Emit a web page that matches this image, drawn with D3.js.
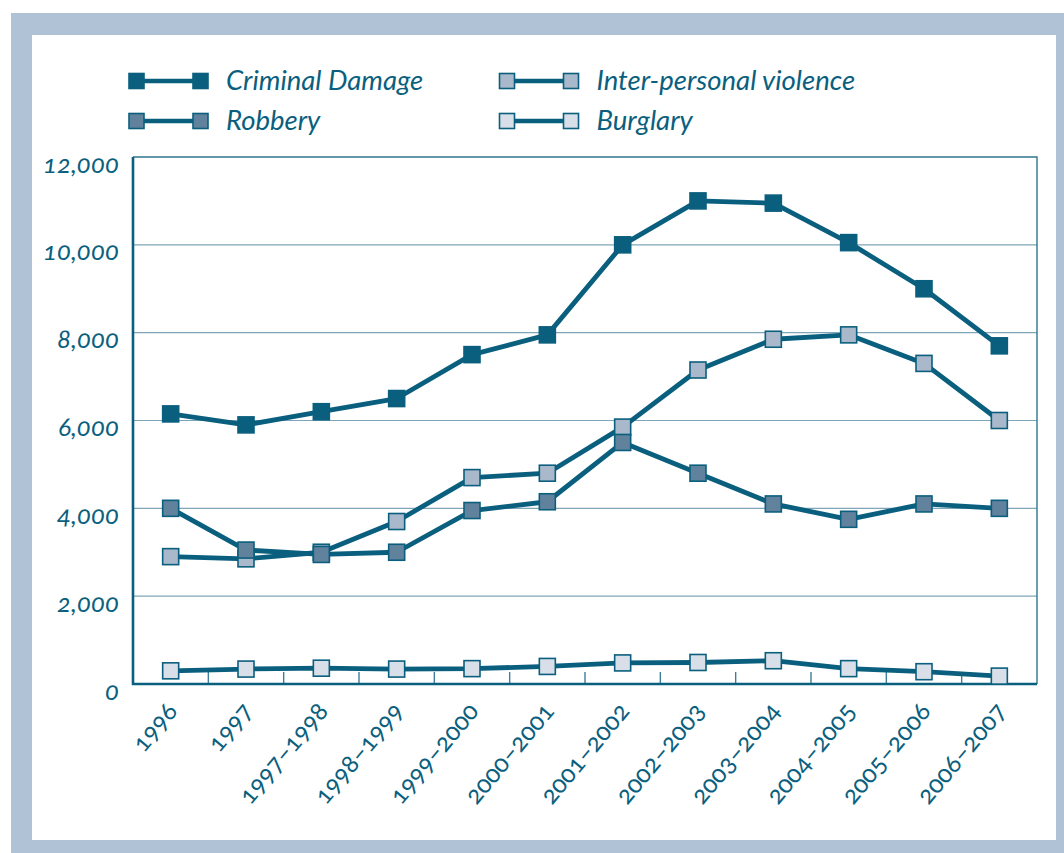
<!DOCTYPE html>
<html>
<head>
<meta charset="utf-8">
<script src="https://cdn.jsdelivr.net/npm/d3@7"></script>
<style>
  html, body { margin: 0; padding: 0; background: #ffffff; }
  svg { display: block; }
  .legend-text { font-family: Lato, "Open Sans", sans-serif; font-style: italic; }
  .y-lab { font-family: Lato, "Open Sans", sans-serif; font-style: italic; font-variant-numeric: oldstyle-nums; }
  .x-lab { font-family: Lato, "Open Sans", sans-serif; font-variant-numeric: oldstyle-nums; }
</style>
</head>
<body>
<svg id="chart" width="1064" height="853"></svg>
<script>
// Recorded offences by year
const categories = ["1996", "1997", "1997–1998", "1998–1999", "1999–2000", "2000–2001",
  "2001–2002", "2002–2003", "2003–2004", "2004–2005", "2005–2006", "2006–2007"];

const criminalDamage = [6150, 5900, 6200, 6500, 7500, 7950, 10000, 11000, 10950, 10050, 9000, 7700];
const interPersonalViolence = [2900, 2850, 3000, 3700, 4700, 4800, 5850, 7150, 7850, 7950, 7300, 6000];
const robbery = [4000, 3050, 2950, 3000, 3950, 4150, 5500, 4800, 4100, 3750, 4100, 4000];
const burglary = [300, 340, 360, 340, 350, 400, 480, 490, 530, 350, 280, 180];

const yTicks = [0, 2000, 4000, 6000, 8000, 10000, 12000];

const seriesNames = ["Criminal Damage", "Robbery", "Inter-personal violence", "Burglary"];
const seriesFills = ["#0b5f7e", "#60829c", "#a9b9cb", "#d8dfe8"];

const TEAL = "#0b5f7e";
const series = [
  { name: seriesNames[3], values: burglary, fill: seriesFills[3] },
  { name: seriesNames[2], values: interPersonalViolence, fill: seriesFills[2] },
  { name: seriesNames[1], values: robbery, fill: seriesFills[1] },
  { name: seriesNames[0], values: criminalDamage, fill: seriesFills[0] }
];

const svg = d3.select("#chart");

// framed panel
svg.append("rect").attr("x", 11).attr("y", 13).attr("width", 1053).attr("height", 840).attr("fill", "#b0c2d6");
svg.append("rect").attr("x", 32).attr("y", 35).attr("width", 1024).attr("height", 805).attr("fill", "#ffffff");

const plotLeft = 133, plotRight = 1037, plotTop = 157, plotBottom = 684;

const x = d3.scaleBand().domain(categories).range([plotLeft, plotRight]).padding(0);
const y = d3.scaleLinear().domain([0, 12000]).range([plotBottom, plotTop]);
const cx = d => x(d) + x.bandwidth() / 2;

// horizontal gridlines
svg.append("g").selectAll("line")
  .data(yTicks.filter(t => t > 0 && t < 12000))
  .join("line")
  .attr("x1", plotLeft).attr("x2", plotRight)
  .attr("y1", d => y(d)).attr("y2", d => y(d))
  .attr("stroke", "#7fa6b8").attr("stroke-width", 1.2);

// top and right frame
svg.append("path")
  .attr("d", `M${plotLeft},${plotTop}H${plotRight}V${plotBottom}`)
  .attr("fill", "none").attr("stroke", "#2f7690").attr("stroke-width", 1.4);

// category separators along the base
svg.append("g").selectAll("line")
  .data(categories.slice(1))
  .join("line")
  .attr("x1", d => x(d)).attr("x2", d => x(d))
  .attr("y1", plotBottom).attr("y2", plotBottom - 12)
  .attr("stroke", "#3d7f98").attr("stroke-width", 1.4);

// y axis
const yAxis = d3.axisLeft(y).tickValues(yTicks).tickSize(0).tickPadding(14)
  .tickFormat(d3.format(","));
const gy = svg.append("g").attr("transform", `translate(${plotLeft},0)`).call(yAxis);
gy.select(".domain").remove();
gy.selectAll("text")
  .attr("class", "y-lab")
  .attr("fill", TEAL)
  .attr("font-size", 26)
  .attr("dy", 15);

// x axis
const xAxis = d3.axisBottom(x).tickSize(0).tickPadding(0);
const gx = svg.append("g").attr("transform", `translate(0,${plotBottom})`).call(xAxis);
gx.select(".domain").remove();
gx.selectAll("text")
  .attr("class", "x-lab")
  .attr("fill", TEAL)
  .attr("font-size", 25)
  .attr("text-anchor", "end")
  .attr("dy", 0)
  .attr("y", 0)
  .attr("transform", "translate(8,28) rotate(-50)");

// left and bottom axis lines
svg.append("path")
  .attr("d", `M${plotLeft},${plotTop}V${plotBottom}H${plotRight}`)
  .attr("fill", "none").attr("stroke", TEAL).attr("stroke-width", 2.6);

// series lines
const line = d3.line().x((d, i) => cx(categories[i])).y(d => y(d));
svg.append("g").selectAll("path")
  .data(series)
  .join("path")
  .attr("d", s => line(s.values))
  .attr("fill", "none")
  .attr("stroke", TEAL)
  .attr("stroke-width", 4.8)
  .attr("stroke-linejoin", "round");

// markers
const M = 16;
series.forEach(s => {
  svg.append("g").selectAll("rect")
    .data(s.values)
    .join("rect")
    .attr("x", (d, i) => cx(categories[i]) - M / 2)
    .attr("y", d => y(d) - M / 2)
    .attr("width", M).attr("height", M)
    .attr("fill", s.fill)
    .attr("stroke", TEAL)
    .attr("stroke-width", 1.6);
});

// legend
const legendItems = [
  { name: seriesNames[0], fill: seriesFills[0], lx: 136.5, ly: 81 },
  { name: seriesNames[2], fill: seriesFills[2], lx: 507, ly: 81 },
  { name: seriesNames[1], fill: seriesFills[1], lx: 136.5, ly: 121 },
  { name: seriesNames[3], fill: seriesFills[3], lx: 507, ly: 121 }
];
const lg = svg.append("g").selectAll("g").data(legendItems).join("g")
  .attr("transform", d => `translate(${d.lx},${d.ly})`);
lg.append("line").attr("x1", 0).attr("x2", 64).attr("y1", 0).attr("y2", 0)
  .attr("stroke", TEAL).attr("stroke-width", 4.6);
lg.selectAll("rect.mk").data(d => [0, 64].map(o => ({ o, fill: d.fill }))).join("rect")
  .attr("class", "mk")
  .attr("x", d => d.o - 7.5).attr("y", -7.5)
  .attr("width", 15).attr("height", 15)
  .attr("fill", d => d.fill).attr("stroke", TEAL).attr("stroke-width", 1.6);
lg.append("text")
  .attr("class", "legend-text")
  .attr("x", 89.5).attr("y", 9)
  .attr("fill", TEAL)
  .attr("font-size", 27.5)
  .text(d => d.name);
</script>
</body>
</html>
